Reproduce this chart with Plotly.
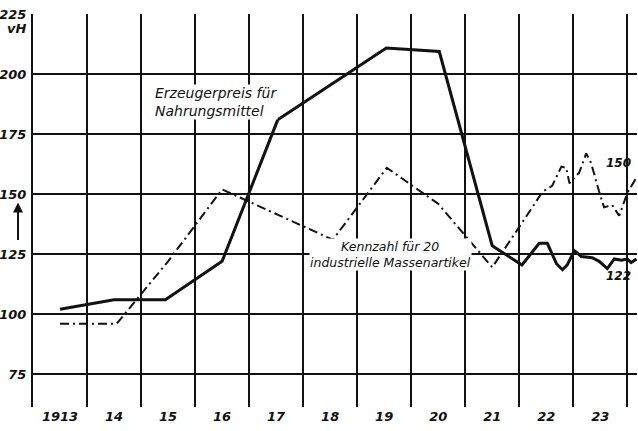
import plotly.graph_objects as go

# --- data ---
food_x = [1913.5, 1914.5, 1915.45, 1916.5, 1917.53, 1919.54, 1920.52, 1921.5,
          1922.05, 1922.37, 1922.52, 1922.69, 1922.80, 1922.89, 1923.02, 1923.15,
          1923.35, 1923.48, 1923.63, 1923.76, 1923.89, 1924.0, 1924.07, 1924.17]
food_y = [102, 106, 106, 122, 181, 211, 209.5, 128.5,
          120.5, 129.5, 129.5, 121, 118.5, 120.5, 126.5, 124,
          123.5, 122, 119, 123, 122.5, 123, 121.5, 123]

ind_x = [1913.5, 1914.55, 1915.5, 1916.5, 1918.55, 1919.55, 1920.5, 1921.5,
         1922.05, 1922.43, 1922.61, 1922.78, 1922.87, 1922.93, 1923.02, 1923.11,
         1923.24, 1923.33, 1923.48, 1923.57, 1923.72, 1923.85, 1924.0, 1924.17]
ind_y = [96, 96, 122, 152, 131, 161, 146, 119.5,
         138, 151, 153.5, 161.5, 161, 154.5, 157, 159,
         167, 163, 151, 144.5, 145.5, 141, 150.5, 157]

year_pos = [1913.5 + i for i in range(11)]
year_labels = ["1913", "14", "15", "16", "17", "18", "19", "20", "21", "22", "23"]
year_bounds = list(range(1913, 1925))
y_ticks = [75, 100, 125, 150, 175, 200, 225]

INK = "#111111"
FONT = "DejaVu Sans"

fig = go.Figure()
fig.add_trace(go.Scatter(x=ind_x, y=ind_y, mode="lines",
                         line=dict(color=INK, width=2, dash="9px,4px,2px,4px"),
                         showlegend=False, hoverinfo="skip"))
fig.add_trace(go.Scatter(x=food_x, y=food_y, mode="lines",
                         line=dict(color=INK, width=3),
                         showlegend=False, hoverinfo="skip"))

# hide grid stubs beyond the last year line (data runs slightly past it)
fig.add_shape(type="rect", xref="x", yref="paper", x0=1924.025, x1=1924.3, y0=0, y1=1,
              fillcolor="white", line=dict(width=0), layer="between")

tick_font = dict(family=FONT, size=13, color=INK, weight="bold", style="italic")
end_font = dict(family=FONT, size=12, color=INK, weight="bold", style="italic")

fig.add_annotation(x=1915.24, y=188.5, xref="x", yref="y",
                   text="Erzeugerpreis für<br>Nahrungsmittel", showarrow=False,
                   align="left", xanchor="left",
                   font=dict(family=FONT, size=14, color=INK, style="italic"),
                   bgcolor="white", borderpad=0)
fig.add_annotation(x=1919.62, y=125, xref="x", yref="y",
                   text="Kennzahl für 20<br>industrielle Massenartikel", showarrow=False,
                   align="center", xanchor="center",
                   font=dict(family=FONT, size=12.5, color=INK, style="italic"),
                   bgcolor="white", borderpad=0)
fig.add_annotation(x=0.994, y=163, xref="paper", yref="y", text="150", showarrow=False,
                   xanchor="right", font=end_font)
fig.add_annotation(x=0.994, y=116, xref="paper", yref="y", text="122", showarrow=False,
                   xanchor="right", font=end_font)
fig.add_annotation(x=-0.027, y=219, xref="paper", yref="y", text="vH", showarrow=False,
                   xanchor="center", font=tick_font)
fig.add_annotation(x=-0.0248, y=146.5, xref="paper", yref="y", text="", showarrow=True,
                   ax=0, ay=39, arrowhead=2, arrowsize=1, arrowwidth=2, arrowcolor=INK)

fig.update_layout(
    width=638, height=431,
    margin=dict(l=33, r=1, t=14, b=24, autoexpand=False),
    paper_bgcolor="white", plot_bgcolor="white",
    xaxis=dict(range=[1913, 1924.18], tickmode="array", tickvals=year_pos,
               ticktext=year_labels, showgrid=False, zeroline=False, ticks="",
               tickfont=tick_font, automargin=False,
               minor=dict(tickmode="array", tickvals=year_bounds, showgrid=True,
                          gridcolor=INK, gridwidth=1.6, ticks="")),
    yaxis=dict(range=[61.25, 225.15], tickmode="array", tickvals=y_ticks,
               showgrid=True, gridcolor=INK, gridwidth=1.6, zeroline=False,
               showline=True, linecolor=INK, linewidth=2, ticks="",
               ticklabelstandoff=2, tickfont=tick_font, automargin=False),
)

fig.write_html("out.html", config={"displayModeBar": False},
               post_script="document.body.style.margin='0';document.body.style.overflow='hidden';")
